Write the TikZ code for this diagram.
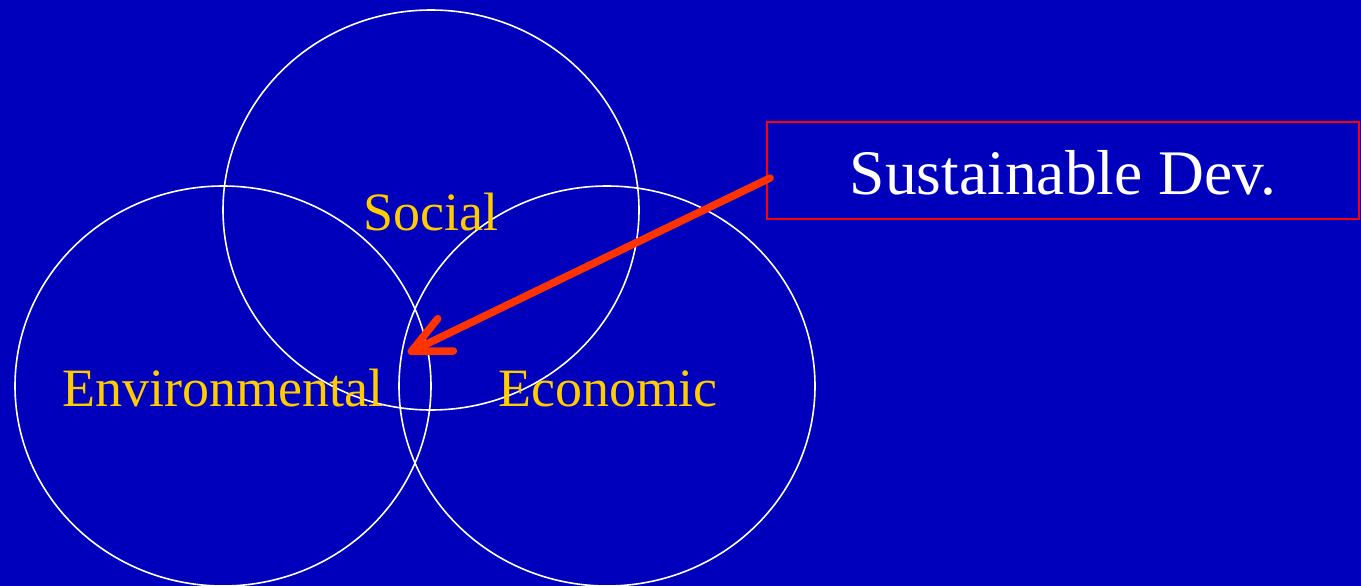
\documentclass[tikz,border=0pt]{standalone}
\usepackage{fontspec}
\setmainfont{Liberation Serif}
\usetikzlibrary{arrows.meta}
\definecolor{bgblue}{RGB}{0,0,188}
\definecolor{labelyellow}{RGB}{255,204,0}
\definecolor{arrowred}{RGB}{255,51,0}
\definecolor{boxred}{RGB}{255,0,0}
\tikzset{
  ring/.style={draw=white, line width=1.6pt},
  setlabel/.style={anchor=base, text=labelyellow, font=\fontsize{54}{60}\selectfont, inner sep=0pt},
  titlebox/.style={draw=boxred, line width=1.8pt, minimum width=592pt, minimum height=97pt, inner sep=0pt},
  titletext/.style={anchor=base, text=white, font=\fontsize{63.5}{70}\selectfont, inner sep=0pt},
  pointer/.style={draw=arrowred, line width=7.5pt, line cap=round, -{Straight Barb[length=38pt,width=36pt,round]}}
}
\begin{document}
\begin{tikzpicture}[x=1pt,y=-1pt]
\fill[bgblue] (0,0) rectangle (1361,586);
\useasboundingbox (0,0) rectangle (1361,586);
% circles
\draw[ring] (431,210) ellipse [x radius=208, y radius=200];
\draw[ring] (223,386) ellipse [x radius=208, y radius=200];
\draw[ring] (607,386) ellipse [x radius=208, y radius=200];
% labels
\node[setlabel] (social) at (431,230) {Social};
\node[setlabel] (env) at (223,406) {Environmental};
\node[setlabel] (econ) at (607.5,406) {Economic};
% title box
\node[titlebox] (box) at (1063,170.5) {};
\node[titletext] (title) at (1063,194) {Sustainable Dev.};
% arrow
\coordinate (start) at ([xshift=4pt,yshift=-7.5pt]box.west);
\coordinate (tip) at (408,353);
\draw[pointer] (start) -- (tip);
\end{tikzpicture}
\end{document}
